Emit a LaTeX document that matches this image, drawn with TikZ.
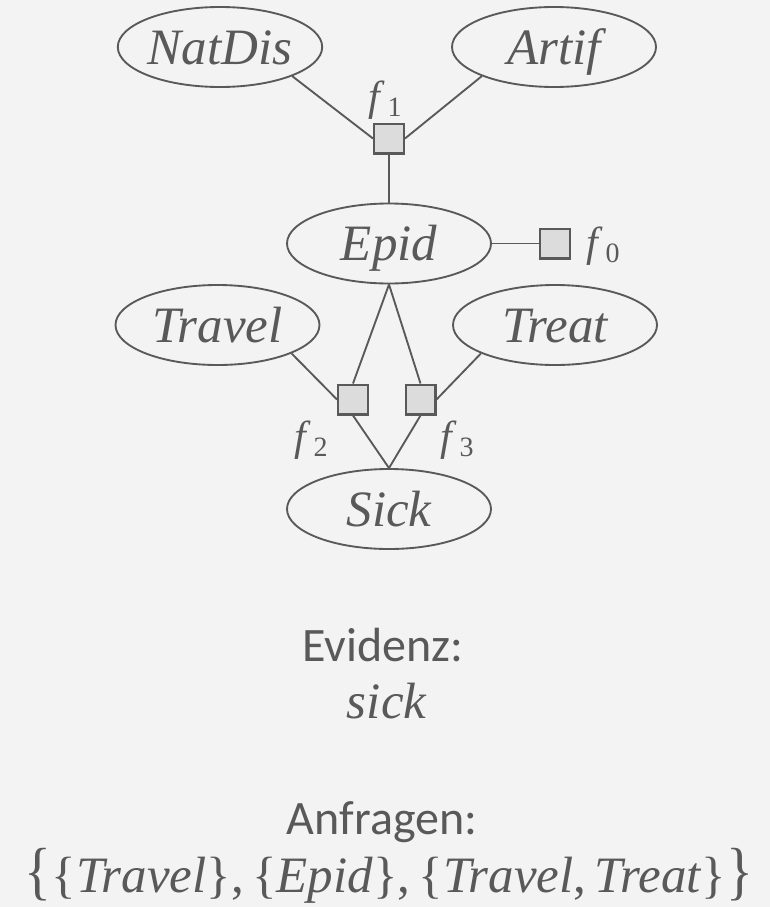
\documentclass[tikz,border=0pt]{standalone}
\usepackage{fontspec}
\setmainfont{Liberation Serif}
\newfontfamily\captionsans{Carlito}
\usetikzlibrary{shapes.geometric}
\definecolor{ink}{HTML}{595959}
\definecolor{paper}{HTML}{F3F3F3}
\definecolor{factorfill}{HTML}{DCDCDC}
% factor name with an upright, lowered index
\newcommand\fsub[1]{\textit{f}\kern0.06em\raisebox{-0.15em}{\fontsize{21}{22}\selectfont #1}}
\begin{document}
\begin{tikzpicture}[x=0.75pt,y=-0.75pt,
  var/.style={ellipse, draw=ink, line width=1.4pt, minimum width=153pt,
    minimum height=60pt, inner sep=0pt, text=ink,
    font=\fontsize{38.25}{40}\selectfont\itshape, text height=26pt, text depth=0pt},
  factor/.style={rectangle, draw=ink, fill=factorfill, line width=1.7pt,
    minimum size=22.3pt, inner sep=0pt},
  flabel/.style={text=ink, inner sep=0pt, anchor=base,
    font=\fontsize{31.5}{33}\selectfont},
  edge/.style={draw=ink, line width=1.4pt},
  caption/.style={text=ink, inner sep=0pt, anchor=base,
    font=\captionsans\fontsize{36}{40}\selectfont},
  mathline/.style={text=ink, inner sep=0pt, anchor=base,
    font=\fontsize{38.25}{40}\selectfont},
]
% canvas
\fill[paper] (0,0) rectangle (770,907);
\useasboundingbox (0,0) rectangle (770,907);

% variables
\node[var] (natdis) at (220,47) {NatDis};
\node[var] (artif)  at (554,47) {Artif};
\node[var] (epid)   at (389,243.5) {Epid};
\node[var] (travel) at (217.5,325) {Travel};
\node[var] (treat)  at (555,325) {Treat};
\node[var] (sick)   at (389,509) {Sick};

% factors
\node[factor] (f1) at (389,138.5) {};
\node[factor] (f0) at (555,243.5) {};
\node[factor] (f2) at (353,399.5) {};
\node[factor] (f3) at (420.5,399.5) {};

% factor names
\node[flabel] (f1lab) at (385,110) {\fsub{1}};
\node[flabel] (f0lab) at (603,256) {\fsub{0}};
\node[flabel] (f2lab) at (311,450) {\fsub{2}};
\node[flabel] (f3lab) at (457,450) {\fsub{3}};

% connections
\draw[edge] (natdis.-22) -- (f1.west);
\draw[edge] (artif.202) -- (f1.east);
\draw[edge] (f1.south) -- (epid.north);
\draw[edge] (epid.east) -- (f0.west);
\draw[edge] (epid.south) -- (f2.north);
\draw[edge] (epid.south) -- (f3.north);
\draw[edge] (travel.-21) -- (f2.west);
\draw[edge] (treat.201) -- (f3.east);
\draw[edge] (f2.south) -- (sick.north);
\draw[edge] (f3.south) -- (sick.north);

% evidence and queries
\node[caption] (evid) at (383,661) {Evidenz:};
\node[mathline] (evval) at (387,718) {\textit{sick}};
\node[caption] (query) at (382,834) {Anfragen:};
\node[mathline] (qval) at (389,892)
  {\scalebox{1.1}[1.25]{\{}\{\textit{Travel}\},\,\{\textit{Epid}\},\,\{\textit{Travel},\,\textit{Treat}\}\scalebox{1.1}[1.25]{\}}};
\end{tikzpicture}
\end{document}
